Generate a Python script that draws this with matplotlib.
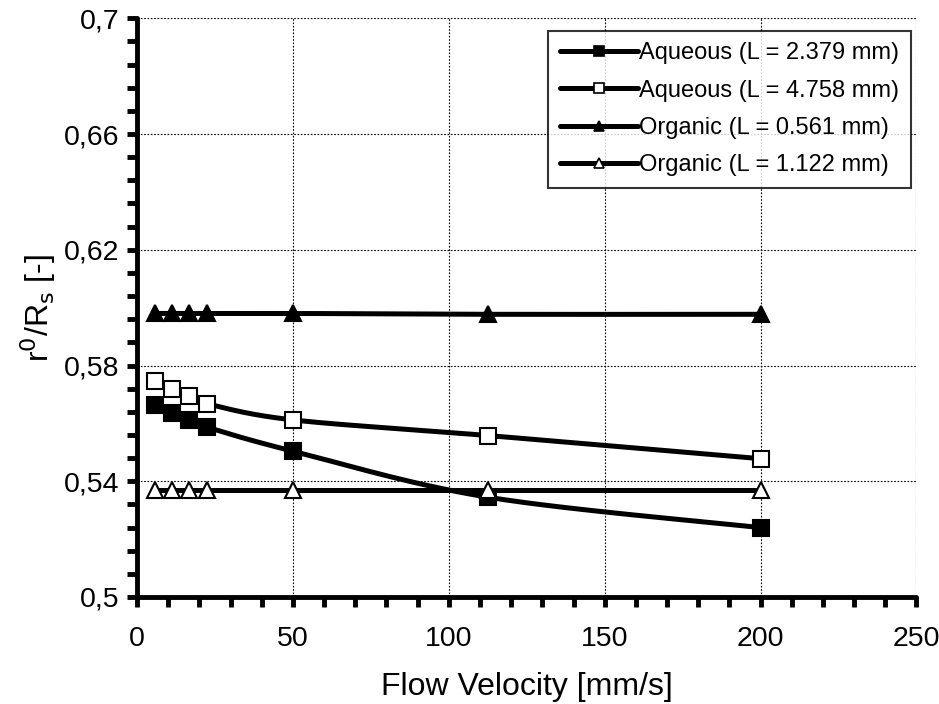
import numpy as np
import matplotlib
matplotlib.use("Agg")
import matplotlib.pyplot as plt
from matplotlib.ticker import FuncFormatter

plt.rcParams['font.family'] = ['Liberation Sans', 'DejaVu Sans']

# data
velocity = [5.6, 11.2, 16.8, 22.4, 50, 112.5, 200]
aq_2379 = [0.5663, 0.5635, 0.5611, 0.5587, 0.5504, 0.5345, 0.5240]
aq_4758 = [0.5745, 0.5720, 0.5694, 0.5668, 0.5612, 0.5558, 0.5478]
org_0561 = [0.5980, 0.5980, 0.5980, 0.5980, 0.5980, 0.5977, 0.5977]
org_1122 = [0.5370, 0.5370, 0.5370, 0.5370, 0.5370, 0.5370, 0.5370]

labels = ["Aqueous (L = 2.379 mm)", "Aqueous (L = 4.758 mm)",
          "Organic (L = 0.561 mm)", "Organic (L = 1.122 mm)"]
series = [aq_2379, aq_4758, org_0561, org_1122]
markers = [("s", "k"), ("s", "w"), ("^", "k"), ("^", "w")]

x_major = [0, 50, 100, 150, 200, 250]
y_major = [0.5, 0.54, 0.58, 0.62, 0.66, 0.7]


def smooth(x, y, n=30):
    """catmull-rom curve through the points, like excel's smoothed lines"""
    p = np.column_stack([x, y]).astype(float)
    p = np.vstack([p[0], p, p[-1]])
    out = []
    t = np.linspace(0, 1, n)[:, None]
    for i in range(1, len(p) - 2):
        p0, p1, p2, p3 = p[i - 1], p[i], p[i + 1], p[i + 2]
        seg = 0.5 * ((2 * p1) + (-p0 + p2) * t
                     + (2 * p0 - 5 * p1 + 4 * p2 - p3) * t ** 2
                     + (-p0 + 3 * p1 - 3 * p2 + p3) * t ** 3)
        out.append(seg)
    out = np.vstack(out)
    return out[:, 0], out[:, 1]


fig = plt.figure(figsize=(9.39, 7.04), dpi=100)
ax = fig.add_axes([0.146, 0.152, 0.83, 0.822])

handles = []
for ys, lab, (m, fc) in zip(series, labels, markers):
    sx, sy = smooth(velocity, ys)
    ax.plot(sx, sy, color="k", lw=3.6, solid_capstyle="round", zorder=3)
    ax.plot(velocity, ys, ls="none", marker=m, ms=11, mfc=fc, mec="k",
            mew=1.5, zorder=4)
    h, = ax.plot([], [], color="k", lw=3.6, marker=m, ms=7.5, mfc=fc,
                 mec="k", mew=1.2, solid_capstyle="round", label=lab)
    handles.append(h)

ax.set_xlim(0, 250)
ax.set_ylim(0.5, 0.7)
ax.set_xticks(x_major)
ax.set_xticks(np.arange(0, 251, 10), minor=True)
ax.set_yticks(y_major)
ax.set_yticks(np.linspace(0.5, 0.7, 26), minor=True)
ax.yaxis.set_major_formatter(FuncFormatter(lambda v, p: ("%g" % round(v, 3)).replace(".", ",")))

ax.grid(True, which="major", color="k", ls=(0, (1.5, 1.5)), lw=0.8)
ax.set_axisbelow(True)

for s in ["top", "right"]:
    ax.spines[s].set_visible(False)
for s in ["left", "bottom"]:
    ax.spines[s].set_linewidth(3.5)
    ax.spines[s].set_capstyle("round")

ax.tick_params(which="major", direction="out", length=7, width=3.5,
               labelsize=20.5, pad=6)
ax.tick_params(axis="x", which="major", pad=14)
ax.tick_params(which="minor", direction="out", length=7, width=3.5)
for t in ax.xaxis.get_ticklines(minor=True) + ax.yaxis.get_ticklines(minor=True):
    t.set_solid_capstyle("round")

ax.set_xlabel("Flow Velocity [mm/s]", fontsize=23, labelpad=14)
ax.set_ylabel(r"r$^0$/R$_\mathrm{s}$ [-]", fontsize=23, labelpad=4)

leg = ax.legend(handles=handles, loc="upper right", bbox_to_anchor=(0.9985, 0.987),
                fontsize=17, frameon=True, fancybox=False, handlelength=3.3,
                handletextpad=0.05, borderpad=0.5, labelspacing=0.65,
                borderaxespad=0.2)
leg.get_frame().set_edgecolor("k")
leg.get_frame().set_linewidth(1.5)

fig.savefig("out.png", dpi=100)
